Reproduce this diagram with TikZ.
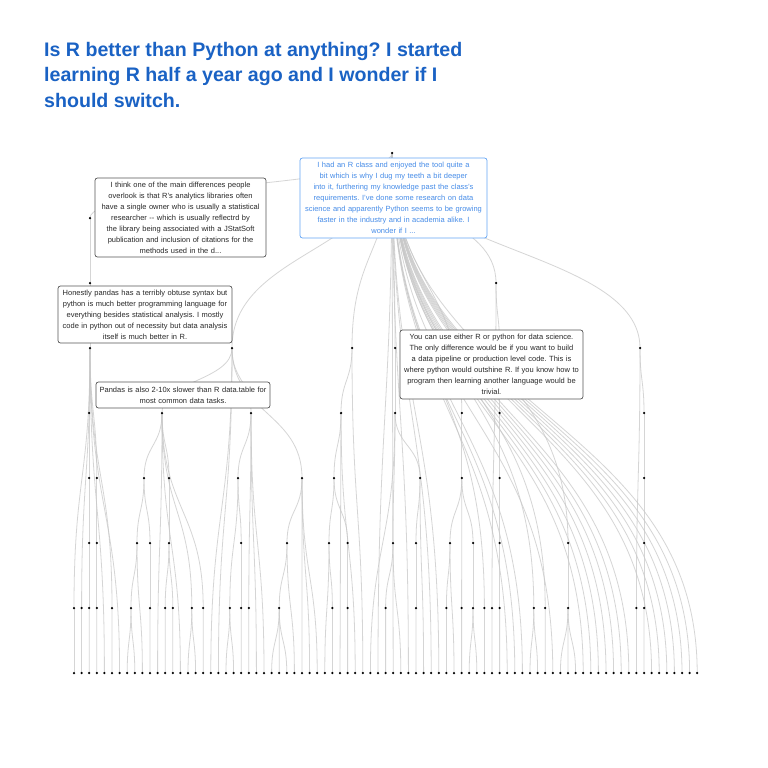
\documentclass[tikz,border=0pt]{standalone}
\usepackage{fontspec}
\setmainfont{Liberation Sans}
\usetikzlibrary{calc}
\definecolor{ttl}{RGB}{26,98,196}
\definecolor{bluetxt}{RGB}{70,140,232}
\definecolor{blueln}{RGB}{100,165,245}
\definecolor{boxln}{RGB}{85,85,85}
\definecolor{boxtxt}{RGB}{40,40,40}
\definecolor{edgec}{RGB}{200,200,200}
\newcommand\lnk[2]{\draw[edge] let \p1=(#1),\p2=(#2),\n1={0.5*(\y1+\y2)} in (\p1) .. controls (\x1,\n1) and (\x2,\n1) .. (\p2);}
\frenchspacing
\begin{document}
\frenchspacing
\begin{tikzpicture}[x=1pt,y=1pt,
  edge/.style={draw=edgec,line width=0.8pt,opacity=0.75},
  dotmark/.style={fill=black},
  cbox/.style={draw=boxln,fill=white,rounded corners=2.5pt,line width=0.7pt,align=center,
    font=\fontsize{7.5}{11}\selectfont,text=boxtxt,inner xsep=3pt,inner ysep=1pt},
  bbox/.style={cbox,draw=blueln,text=bluetxt}]
\fill[white] (0,0) rectangle (768,-768);
\useasboundingbox (0,0) rectangle (768,-768);
% leaves
\foreach \i in {0,...,82} {\coordinate (l\i) at ({74+7.6*\i},-673);}
% internal nodes
\coordinate (r) at (392,-153);
\coordinate (a1) at (90,-218);
\coordinate (h2) at (90,-283);
\coordinate (b2) at (496,-283);
\foreach \nm/\xx in {c3a/90,c3b/232,c3c/352,c3d/395,c3e/640,c3h/499.6} {\coordinate (\nm) at (\xx,-348);}
\foreach \nm/\xx in {d90/89.2,d162/162,d251/251,d341/341,d395/395,d462/461.8,d499/499.6,d643/644} {\coordinate (\nm) at (\xx,-413);}
\foreach \nm/\xx in {e90/89.2,e97/96.8,e144/144,e169/169,e238/238,e302/302,e334/334,e420/420,e462/461.8,e499/499.6,e643/644} {\coordinate (\nm) at (\xx,-478);}
\foreach \nm/\xx in {f90/89.2,f97/96.8,f137/137,f150/150,f169/169,f242/241.2,f287/287,f329/329,f348/347.6,f393/393,f416/416,f450/450,f473/473,f499/499.6,f568/568,f643/644} {\coordinate (\nm) at (\xx,-543);}
\foreach \nm/\xx in {g0/74,g1/81.6,g2/89.2,g3/96.8,g5/112,g7/131,g10/150,g12/165.2,g13/172.8,g15/191.8,g17/203.2,g20/229.8,g22/241.2,g23/248.8,g27/279.2,g34/332.4,g36/347.6,g41/385.6,g45/416,g49/446.4,g51/461.6,g52/473,g54/484.4,g55/492,g56/499.6,g60/533.8,g62/545.2,g65/568,g74/636.4,g75/644} {\coordinate (\nm) at (\xx,-608);}
% edges
\foreach \u/\v in {r/a1,r/b2,r/c3b,r/c3c,r/c3d,r/c3e,r/d462,r/f568,r/g54,r/g60,r/g62,
  a1/h2,h2/c3a,b2/c3h,b2/g55,
  c3a/d90,c3a/e97,c3a/g0,c3a/g1,c3a/g5,c3a/l4,c3a/l6,
  c3b/d162,c3b/d251,c3b/e302,c3b/l18,c3b/l19,
  c3c/d341,c3c/l38,c3d/d395,c3e/d643,c3e/g74,c3h/d499,
  d90/e90,d162/e144,d162/e169,d162/l11,d162/l14,d162/g15,d162/g17,
  d251/e238,d251/g23,d251/l24,d251/l25,d341/e334,d341/l35,d341/l37,
  d395/f393,d395/e420,d395/l39,d462/e462,d499/e499,d643/e643,
  e90/f90,e97/f97,e144/f137,e144/f150,e169/f169,e238/f242,e238/g20,
  e302/f287,e302/l30,e302/l31,e302/l32,e334/f329,e334/f348,e420/f416,e420/l46,
  e462/f450,e462/f473,e462/g51,e499/f499,e643/f643,
  f90/g2,f97/g3,f137/g7,f137/l9,f150/g10,f169/g12,f169/g13,f242/g22,f287/g27,f287/l29,
  f329/g34,f329/l33,f348/g36,f393/g41,f393/l43,f416/g45,f450/g49,f450/l50,f473/g52,
  f499/g56,f568/g65,f643/g75,
  g0/l0,g1/l1,g2/l2,g3/l3,g5/l5,g7/l7,g7/l8,g10/l10,g12/l12,g13/l13,g15/l15,g15/l16,
  g17/l17,g20/l20,g20/l21,g22/l22,g23/l23,g27/l26,g27/l27,g27/l28,g34/l34,g36/l36,
  g41/l41,g45/l45,g49/l49,g51/l51,g52/l52,g52/l53,g54/l54,g55/l55,g56/l56,g60/l60,
  g60/l61,g62/l62,g65/l64,g65/l65,g65/l66,g74/l74,g75/l75} {\lnk{\u}{\v}}
\foreach \i in {40,42,44,47,48,57,58,59,63,67,68,69,70,71,72,73,76,77,78,79,80,81,82} {\lnk{r}{l\i}}
% dots
\foreach \nm in {r,a1,h2,b2,c3a,c3b,c3c,c3d,c3e,c3h,d90,d162,d251,d341,d395,d462,d499,d643,
  e90,e97,e144,e169,e238,e302,e334,e420,e462,e499,e643,
  f90,f97,f137,f150,f169,f242,f287,f329,f348,f393,f416,f450,f473,f499,f568,f643,
  g0,g1,g2,g3,g5,g7,g10,g12,g13,g15,g17,g20,g22,g23,g27,g34,g36,g41,g45,g49,g51,g52,g54,g55,g56,g60,g62,g65,g74,g75}
  {\fill[dotmark] (\nm) circle[radius=1.25];}
\foreach \i in {0,...,82} {\fill[dotmark] (l\i) circle[radius=1.25];}
% text boxes
\node[bbox,text width=181pt,minimum height=80pt] (tb0) at (393.5,-198)
 {I had an R class and enjoyed the tool quite a\\bit which is why I dug my teeth a bit deeper\\into it, furthering my knowledge past the class's\\requirements. I've done some research on data\\science and apparently Python seems to be growing\\faster in the industry and in academia alike. I\\wonder if I ...};
\node[cbox,text width=165pt,minimum height=79pt] (tb1) at (180.5,-217.5)
 {I think one of the main differences people\\overlook is that R's analytics libraries often\\have a single owner who is usually a statistical\\researcher -{}- which is usually reflectrd by\\the library being associated with a JStatSoft\\publication and inclusion of citations for the\\methods used in the d...};
\node[cbox,text width=168pt,minimum height=57pt] (tb2) at (145,-314.5)
 {Honestly pandas has a terribly obtuse syntax but\\python is much better programming language for\\everything besides statistical analysis. I mostly\\code in python out of necessity but data analysis\\itself is much better in R.};
\node[cbox,text width=177pt,minimum height=69pt] (tb3) at (491.5,-364.5)
 {You can use either R or python for data science.\\The only difference would be if you want to build\\a data pipeline or production level code. This is\\where python would outshine R. If you know how to\\program then learning another language would be\\trivial.};
\node[cbox,text width=168pt,minimum height=26pt] (tb4) at (183,-395)
 {Pandas is also 2-10x slower than R data.table for\\most common data tasks.};
% title
\node[anchor=north west,inner sep=0pt,align=left,text=ttl,font=\fontsize{19.6}{25.5}\selectfont\bfseries] (title) at (44,-41.7)
 {Is R better than Python at anything? I started\\learning R half a year ago and I wonder if I\\should switch.};
\end{tikzpicture}
\end{document}
